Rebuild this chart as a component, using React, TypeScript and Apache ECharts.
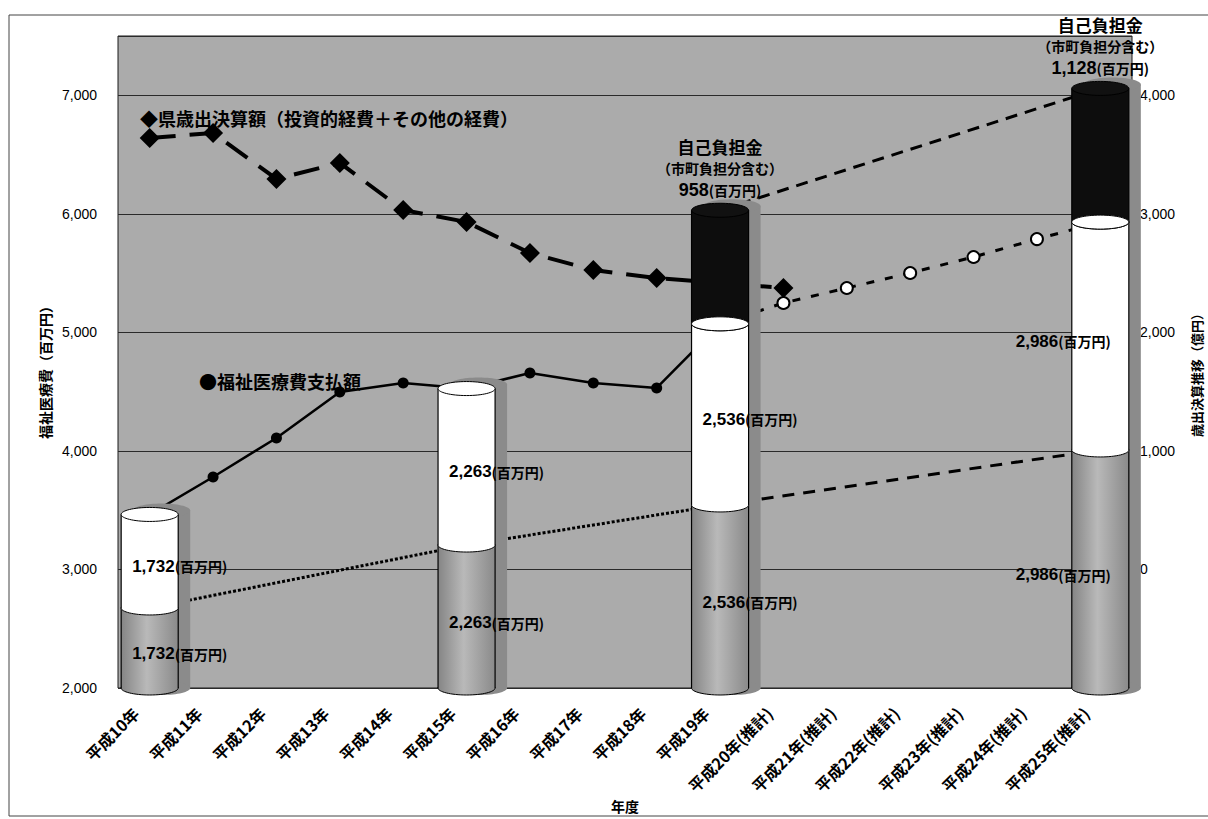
import React, { useEffect, useRef } from "react";
import * as echarts from "echarts";

// 年度
const categories = [
  "平成10年", "平成11年", "平成12年", "平成13年", "平成14年",
  "平成15年", "平成16年", "平成17年", "平成18年", "平成19年",
  "平成20年(推計)", "平成21年(推計)", "平成22年(推計)",
  "平成23年(推計)", "平成24年(推計)", "平成25年(推計)",
];

// 県歳出決算額（億円）平成10年〜平成20年
const prefExpenditure = [3639, 3682, 3294, 3429, 3032, 2931, 2669, 2526, 2458, 2416, 2374];

// 福祉医療費支払額（百万円）実績：平成10年〜平成19年
const welfareActual = [3464, 3780, 4109, 4497, 4573, 4526, 4657, 4573, 4531, 5072];
// 同 推計：平成19年〜平成25年
const welfareProjected = [5072, 5248, 5374, 5501, 5636, 5787, 5930];
const projectionStart = 9;

// 円柱を置く年度（categories の添字）
const cylinderYears = [0, 5, 9, 15];
// 円柱に書く金額（百万円）
const shareAmounts = [1732, 2263, 2536, 2986];
// 円柱の灰色部分と白色部分の境目（百万円）
const splitLevels = [2675, 3206, 3544, 4008];
// 自己負担金（市町負担分含む）（百万円）
const selfBurden = [0, 0, 958, 1128];

// 軸の範囲
const leftAxis = { min: 2000, max: 7500, interval: 1000, lastLabel: 7000 };
const rightAxis = { min: -1000, max: 4500, interval: 1000, firstLabel: 0, lastLabel: 4000 };

const CJK = '"Noto Sans CJK JP", "Noto Sans CJK SC", sans-serif';
const NUM = '"Liberation Sans", Arial, sans-serif';
const UNIT = "(百万円)";

const fmt = (v: number) => v.toLocaleString("en-US");
const welfareAt = (i: number) =>
  i <= projectionStart ? welfareActual[i] : welfareProjected[i - projectionStart];
const cylinderAt = (i: number) => cylinderYears.indexOf(i);

const prefData = categories.map((_, i) => (i < prefExpenditure.length ? prefExpenditure[i] : null));
const welfareActualData = categories.map((_, i) => (i <= projectionStart ? welfareActual[i] : null));
const welfareProjectedData = categories.map((_, i) =>
  i >= projectionStart ? welfareProjected[i - projectionStart] : null
);
const splitActualData = categories.map((_, i) => {
  const k = cylinderAt(i);
  return k >= 0 && i <= projectionStart ? splitLevels[k] : null;
});
const splitProjectedData = categories.map((_, i) => {
  const k = cylinderAt(i);
  return k >= 0 && i >= projectionStart ? splitLevels[k] : null;
});
const burdenTopData = categories.map((_, i) => {
  const k = cylinderAt(i);
  return k >= 0 && selfBurden[k] > 0 ? welfareAt(i) + selfBurden[k] : null;
});
const cylinderData = cylinderYears.map((c, k) => [
  c,
  splitLevels[k],
  welfareAt(c),
  selfBurden[k],
  shareAmounts[k],
]);

const amountRich = (numSize: number, unitSize: number) => ({
  n: { fontSize: numSize, fontWeight: "bold", fontFamily: NUM, fill: "#000", color: "#000" },
  u: { fontSize: unitSize, fontWeight: "bold", fontFamily: CJK, fill: "#000", color: "#000" },
});

function renderCylinder(params: any, api: any) {
  const idx = api.value(0);
  const split = api.value(1);
  const total = api.value(2);
  const self = api.value(3);
  const share = api.value(4);

  const base = api.coord([idx, leftAxis.min]);
  const cx = base[0];
  const yBase = base[1];
  const w = api.size([1, 0])[0] * 0.9;
  const rx = w / 2;
  const ry = 7;
  const x0 = cx - rx;
  const x1 = cx + rx;
  const ySplit = api.coord([idx, split])[1];
  const yTotal = api.coord([idx, total])[1];
  const yTop = self > 0 ? api.coord([idx, total + self])[1] : yTotal;

  const children: any[] = [];

  // 右側の影
  const sh = 12;
  const shadow = "#8b8b8b";
  children.push(
    { type: "rect", shape: { x: x0 + sh, y: yTop - 4, width: w, height: yBase - yTop + 4 }, style: { fill: shadow } },
    { type: "ellipse", shape: { cx: cx + sh, cy: yBase, rx, ry }, style: { fill: shadow } },
    { type: "ellipse", shape: { cx: cx + sh, cy: yTop - 4, rx, ry }, style: { fill: shadow } }
  );

  const segment = (yb: number, yt: number, fill: any) => [
    { type: "ellipse", shape: { cx, cy: yb, rx, ry }, style: { fill, stroke: "#000", lineWidth: 1 } },
    { type: "rect", shape: { x: x0, y: yt, width: w, height: yb - yt }, style: { fill } },
    { type: "line", shape: { x1: x0, y1: yt, x2: x0, y2: yb }, style: { stroke: "#000", lineWidth: 1.2 } },
    { type: "line", shape: { x1, y1: yt, x2: x1, y2: yb }, style: { stroke: "#000", lineWidth: 1.2 } },
  ];

  const grayFill = new echarts.graphic.LinearGradient(0, 0, 1, 0, [
    { offset: 0, color: "#858585" },
    { offset: 0.45, color: "#b9b9b9" },
    { offset: 1, color: "#8a8a8a" },
  ]);

  children.push(...segment(yBase, ySplit, grayFill));
  children.push(...segment(ySplit, yTotal, "#ffffff"));
  if (self > 0) children.push(...segment(yTotal, yTop, "#0d0d0d"));
  children.push({
    type: "ellipse",
    shape: { cx, cy: yTotal, rx, ry },
    style: { fill: "#ffffff", stroke: "#000", lineWidth: 1 },
  });
  if (self > 0) {
    children.push({
      type: "ellipse",
      shape: { cx, cy: yTop, rx, ry },
      style: { fill: "#111", stroke: "#000", lineWidth: 1 },
    });
  }

  // 金額ラベル
  const gridRight = params.coordSys.x + params.coordSys.width;
  const labelW = 112;
  const alignRight = x0 + 10 + labelW > gridRight;
  const lx = alignRight ? x1 - 18 : x0 + 11;
  const amountText = `{n|${fmt(share)}}{u|${UNIT}}`;
  const label = (y: number) => ({
    type: "text",
    x: lx,
    y,
    style: {
      text: amountText,
      rich: amountRich(17, 14),
      fill: "#000",
      align: alignRight ? "right" : "left",
      verticalAlign: "middle",
    },
  });
  children.push(label((ySplit + yTotal) / 2 + 5));
  children.push(label((yBase + ySplit) / 2 + 6));

  if (self > 0) {
    children.push(
      {
        type: "text",
        x: cx,
        y: yTop - 64,
        style: { text: "自己負担金", fontSize: 17, fontWeight: "bold", fontFamily: CJK, fill: "#000", align: "center", verticalAlign: "middle" },
      },
      {
        type: "text",
        x: cx,
        y: yTop - 42,
        style: { text: "（市町負担分含む）", fontSize: 14, fontWeight: "bold", fontFamily: CJK, fill: "#000", align: "center", verticalAlign: "middle" },
      },
      {
        type: "text",
        x: cx,
        y: yTop - 20,
        style: { text: `{n|${fmt(self)}}{u|${UNIT}}`, rich: amountRich(18, 14), fill: "#000", align: "center", verticalAlign: "middle" },
      }
    );
  }

  return { type: "group", children };
}

function buildOption(): any {
  return {
    animation: false,
    backgroundColor: "#ffffff",
    grid: {
      left: 118,
      right: 76,
      top: 36,
      bottom: 131,
      show: true,
      backgroundColor: "#ababab",
      borderColor: "#1a1a1a",
      borderWidth: 1,
      containLabel: false,
      outerBoundsMode: "none",
    },
    xAxis: {
      type: "category",
      data: categories,
      boundaryGap: true,
      axisLine: { show: false },
      axisTick: { show: false },
      splitLine: { show: false },
      axisLabel: {
        interval: 0,
        rotate: 45,
        margin: 8,
        padding: [0, 20, 0, 0],
        fontSize: 16,
        fontWeight: "bold",
        fontFamily: CJK,
        color: "#000",
      },
    },
    yAxis: [
      {
        type: "value",
        min: leftAxis.min,
        max: leftAxis.max,
        interval: leftAxis.interval,
        axisLine: { show: false },
        axisTick: { show: false },
        splitLine: { show: true, lineStyle: { color: "#2a2a2a", width: 1 } },
        axisLabel: {
          margin: 21,
          fontSize: 14,
          fontFamily: NUM,
          color: "#000",
          formatter: (v: number) => (v > leftAxis.lastLabel ? "" : fmt(v)),
        },
      },
      {
        type: "value",
        min: rightAxis.min,
        max: rightAxis.max,
        interval: rightAxis.interval,
        position: "right",
        axisLine: { show: false },
        axisTick: { show: false },
        splitLine: { show: false },
        axisLabel: {
          margin: 8,
          fontSize: 14,
          fontFamily: NUM,
          color: "#000",
          formatter: (v: number) =>
            v < rightAxis.firstLabel || v > rightAxis.lastLabel ? "" : fmt(v),
        },
      },
    ],
    series: [
      {
        name: "県歳出決算額",
        type: "line",
        yAxisIndex: 1,
        data: prefData,
        z: 3,
        symbol: "diamond",
        symbolSize: 20,
        itemStyle: { color: "#000" },
        lineStyle: { color: "#000", width: 4, type: [26, 14], cap: "butt" },
      },
      {
        name: "福祉医療費支払額",
        type: "line",
        yAxisIndex: 0,
        data: welfareActualData,
        z: 3,
        symbol: "circle",
        symbolSize: 11,
        itemStyle: { color: "#000" },
        lineStyle: { color: "#000", width: 2.5 },
      },
      {
        name: "福祉医療費支払額(推計)",
        type: "line",
        yAxisIndex: 0,
        data: welfareProjectedData,
        z: 3,
        symbol: "circle",
        symbolSize: 12,
        itemStyle: { color: "#ffffff", borderColor: "#000", borderWidth: 2 },
        lineStyle: { color: "#000", width: 3, type: [8, 11] },
      },
      {
        name: "境目(実績)",
        type: "line",
        yAxisIndex: 0,
        data: splitActualData,
        connectNulls: true,
        z: 3,
        symbol: "none",
        lineStyle: { color: "#000", width: 3, type: [3, 2] },
      },
      {
        name: "境目(推計)",
        type: "line",
        yAxisIndex: 0,
        data: splitProjectedData,
        connectNulls: true,
        z: 3,
        symbol: "none",
        lineStyle: { color: "#000", width: 3, type: [12, 9] },
      },
      {
        name: "自己負担金",
        type: "line",
        yAxisIndex: 0,
        data: burdenTopData,
        connectNulls: true,
        z: 3,
        symbol: "none",
        lineStyle: { color: "#000", width: 3, type: [12, 8] },
      },
      {
        name: "円柱",
        type: "custom",
        yAxisIndex: 0,
        data: cylinderData,
        encode: { x: 0, y: [1, 2] },
        z: 10,
        clip: false,
        renderItem: renderCylinder,
      },
    ],
    graphic: [
      {
        type: "rect",
        silent: true,
        shape: { x: 9, y: 15, width: 1260, height: 801 },
        style: { fill: "none", stroke: "#444", lineWidth: 1 },
        z: 100,
      },
      {
        type: "text",
        x: 140,
        y: 118,
        z: 100,
        style: {
          text: "◆県歳出決算額（投資的経費＋その他の経費）",
          fontSize: 18,
          fontWeight: "bold",
          fontFamily: CJK,
          fill: "#000",
          align: "left",
          verticalAlign: "middle",
        },
      },
      {
        type: "text",
        x: 199,
        y: 381,
        z: 100,
        style: {
          text: "●福祉医療費支払額",
          fontSize: 18,
          fontWeight: "bold",
          fontFamily: CJK,
          fill: "#000",
          align: "left",
          verticalAlign: "middle",
        },
      },
      {
        type: "text",
        x: 45,
        y: 369,
        rotation: Math.PI / 2,
        z: 100,
        style: {
          text: "福祉医療費（百万円）",
          fontSize: 14,
          fontWeight: "bold",
          fontFamily: CJK,
          fill: "#000",
          align: "center",
          verticalAlign: "middle",
        },
      },
      {
        type: "text",
        x: 1196,
        y: 372,
        rotation: Math.PI / 2,
        z: 100,
        style: {
          text: "歳出決算推移（億円）",
          fontSize: 13,
          fontWeight: "bold",
          fontFamily: CJK,
          fill: "#000",
          align: "center",
          verticalAlign: "middle",
        },
      },
      {
        type: "text",
        x: 625,
        y: 806,
        z: 100,
        style: {
          text: "年度",
          fontSize: 14,
          fontWeight: "bold",
          fontFamily: CJK,
          fill: "#000",
          align: "center",
          verticalAlign: "middle",
        },
      },
    ],
  };
}

export default function App() {
  const ref = useRef<HTMLDivElement>(null);
  useEffect(() => {
    if (!ref.current) return;
    const chart = echarts.init(ref.current, undefined, { renderer: "svg" });
    chart.setOption(buildOption());
    return () => chart.dispose();
  }, []);
  return (
    <div
      ref={ref}
      style={{ position: "absolute", left: 0, top: 0, width: 1208, height: 819, background: "#fff" }}
    />
  );
}
